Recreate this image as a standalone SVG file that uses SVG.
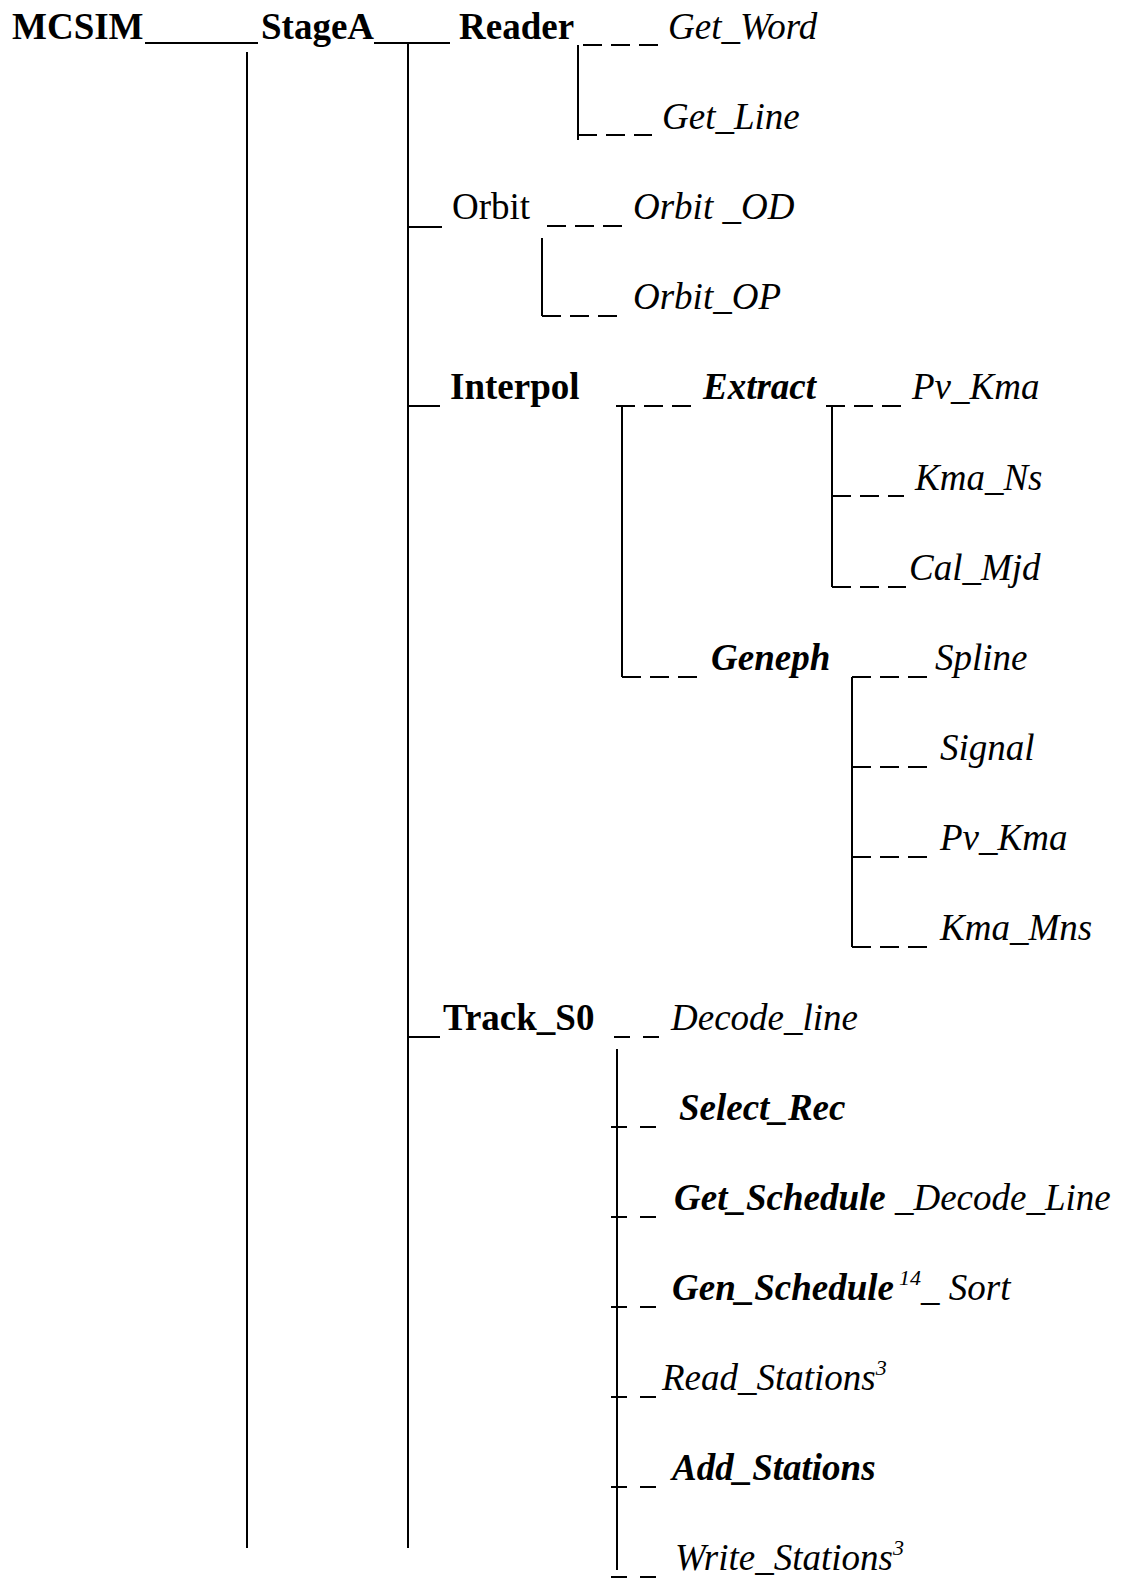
<svg xmlns="http://www.w3.org/2000/svg" width="1121" height="1579" viewBox="0 0 1121 1579">
<style>
text{font-family:"Liberation Serif","Times New Roman",serif;font-size:37px;fill:#000}
.b{font-weight:bold}
.i{font-style:italic}
.bi{font-weight:bold;font-style:italic}
.sup{font-size:22px;font-style:italic}
line{stroke:#000;stroke-width:2;fill:none}
.d3{stroke-dasharray:19 9}
.d2{stroke-dasharray:16 13}
</style>
<rect width="1121" height="1579" fill="#fff"/>
<g id="connectors">
<line x1="145" y1="43" x2="258" y2="43"/>
<line x1="374" y1="43" x2="450" y2="43"/>
<line x1="247" y1="52" x2="247" y2="1548"/>
<line x1="408" y1="43" x2="408" y2="1548"/>
<line class="d3" x1="583" y1="45" x2="658" y2="45"/>
<line x1="578" y1="45" x2="578" y2="140"/>
<line class="d3" x1="578" y1="135" x2="652" y2="135"/>
<line x1="408" y1="227" x2="442" y2="227"/>
<line class="d3" x1="547" y1="226" x2="622" y2="226"/>
<line x1="542" y1="238" x2="542" y2="316"/>
<line class="d3" x1="542" y1="316" x2="620" y2="316"/>
<line x1="408" y1="406" x2="440" y2="406"/>
<line class="d3" x1="616" y1="406" x2="695" y2="406"/>
<line x1="622" y1="406" x2="622" y2="677"/>
<line class="d3" x1="622" y1="677" x2="703" y2="677"/>
<line class="d3" x1="826" y1="406" x2="901" y2="406"/>
<line x1="832" y1="406" x2="832" y2="587"/>
<line class="d3" x1="832" y1="496" x2="904" y2="496"/>
<line class="d3" x1="832" y1="587" x2="906" y2="587"/>
<line class="d3" x1="852" y1="677" x2="927" y2="677"/>
<line x1="852" y1="677" x2="852" y2="947"/>
<line class="d3" x1="852" y1="767" x2="931" y2="767"/>
<line class="d3" x1="852" y1="857" x2="931" y2="857"/>
<line class="d3" x1="852" y1="947" x2="931" y2="947"/>
<line x1="408" y1="1037" x2="440" y2="1037"/>
<line class="d2" x1="614" y1="1037" x2="663" y2="1037"/>
<line x1="617" y1="1049" x2="617" y2="1570"/>
<line class="d2" x1="611" y1="1127" x2="657" y2="1127"/>
<line class="d2" x1="611" y1="1217" x2="657" y2="1217"/>
<line class="d2" x1="611" y1="1307" x2="657" y2="1307"/>
<line class="d2" x1="611" y1="1397" x2="657" y2="1397"/>
<line class="d2" x1="611" y1="1487" x2="657" y2="1487"/>
<line class="d2" x1="611" y1="1577" x2="657" y2="1577"/>
</g>
<g id="MCSIM"><text class="b" x="12" y="39">MCSIM</text></g>
<g id="StageA"><text class="b" x="261" y="39">StageA</text></g>
<g id="Reader"><text class="b" x="459" y="39">Reader</text></g>
<g id="Get_Word"><text class="i" x="668" y="39">Get_Word</text></g>
<g id="Get_Line"><text class="i" x="662" y="129">Get_Line</text></g>
<g id="Orbit"><text x="452" y="219">Orbit</text></g>
<g id="Orbit_OD"><text class="i" x="633" y="219">Orbit _OD</text></g>
<g id="Orbit_OP"><text class="i" x="633" y="309">Orbit_OP</text></g>
<g id="Interpol"><text class="b" x="450" y="399">Interpol</text></g>
<g id="Extract"><text class="bi" x="703" y="399">Extract</text></g>
<g id="Pv_Kma1"><text class="i" x="912" y="399">Pv_Kma</text></g>
<g id="Kma_Ns"><text class="i" x="915" y="490">Kma_Ns</text></g>
<g id="Cal_Mjd"><text class="i" x="909" y="580">Cal_Mjd</text></g>
<g id="Geneph"><text class="bi" x="711" y="670">Geneph</text></g>
<g id="Spline"><text class="i" x="935" y="670">Spline</text></g>
<g id="Signal"><text class="i" x="940" y="760">Signal</text></g>
<g id="Pv_Kma2"><text class="i" x="940" y="850">Pv_Kma</text></g>
<g id="Kma_Mns"><text class="i" x="940" y="940">Kma_Mns</text></g>
<g id="Track_S0"><text class="b" x="443" y="1030">Track_S0</text></g>
<g id="Decode_line"><text class="i" x="671" y="1030">Decode_line</text></g>
<g id="Select_Rec"><text class="bi" x="679" y="1120">Select_Rec</text></g>
<g id="Get_Schedule"><text x="674" y="1210"><tspan class="bi">Get_Schedule</tspan><tspan class="i"> _Decode_Line</tspan></text></g>
<g id="Gen_Schedule"><text x="672" y="1300"><tspan class="bi">Gen_Schedule</tspan><tspan class="sup" x="899" dy="-15">14</tspan><tspan class="i" x="921" dy="15">_ Sort</tspan></text></g>
<g id="Read_Stations"><text class="i" x="662" y="1390">Read_Stations<tspan class="sup" dy="-15">3</tspan></text></g>
<g id="Add_Stations"><text class="bi" x="672" y="1480">Add_Stations</text></g>
<g id="Write_Stations"><text class="i" x="675" y="1570">Write_Stations<tspan class="sup" dy="-15">3</tspan></text></g>
</svg>
